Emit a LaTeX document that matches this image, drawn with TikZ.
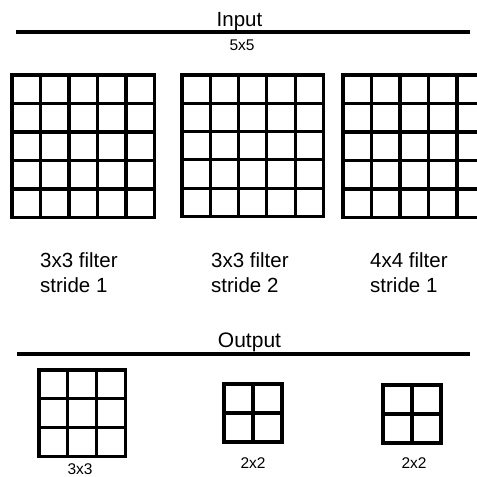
\documentclass[tikz,border=0pt]{standalone}
\usepackage{fontspec}
\setmainfont{Liberation Sans}
\newcommand\cellgrid[4]{%
  \draw[gridline] (#1,#2) rectangle ++({#3*#4},{#3*#4});
  \foreach \i in {1,...,\numexpr#3-1\relax}{%
    \draw[gridline] ({#1+\i*#4},#2) -- ++(0,{#3*#4});
    \draw[gridline] (#1,{#2+\i*#4}) -- ++({#3*#4},0);
  }%
}
\begin{document}
\begin{tikzpicture}[x=1pt,y=-1pt,
  bar/.style={line width=4pt},
  gridline/.style={line width=3.1pt},
  title/.style={font=\fontsize{20.5}{24}\selectfont, inner sep=0pt, anchor=base},
  lbl/.style={font=\fontsize{20.5}{24}\selectfont, inner sep=0pt, anchor=base west},
  dim/.style={font=\fontsize{15.5}{18}\selectfont, inner sep=0pt, anchor=base}]
\useasboundingbox (0,0) rectangle (477,477);
\clip (0,0) rectangle (477,477);
% top rule
\coordinate (inL) at (16,31.5);
\coordinate (inR) at (470,31.5);
\draw[bar] (inL) -- (inR);
\node[title] (input) at (239.5,26) {Input};
\node[dim] (in55) at (242,50) {5x5};
% input grids
\cellgrid{12}{75}{5}{28.5}
\cellgrid{182}{75}{5}{28.3}
\cellgrid{343}{75}{5}{28.5}
% labels
\node[lbl] (f1a) at (40,267) {3x3 filter};
\node[lbl] (f1b) at (40,292) {stride 1};
\node[lbl] (f2a) at (211,267) {3x3 filter};
\node[lbl] (f2b) at (211,292) {stride 2};
\node[lbl] (f3a) at (370,267) {4x4 filter};
\node[lbl] (f3b) at (370,292) {stride 1};
% output rule
\coordinate (outL) at (17,353.5);
\coordinate (outR) at (470,353.5);
\draw[bar] (outL) -- (outR);
\node[title, font=\fontsize{21}{24}\selectfont] (output) at (249.5,347) {Output};
% output grids
\cellgrid{39}{370}{3}{28.7}
\cellgrid{224}{384}{2}{29}
\cellgrid{383}{385}{2}{29}
\node[dim] (o1) at (80,474) {3x3};
\node[dim] (o2) at (253,468) {2x2};
\node[dim] (o3) at (414,468) {2x2};
\end{tikzpicture}
\end{document}
